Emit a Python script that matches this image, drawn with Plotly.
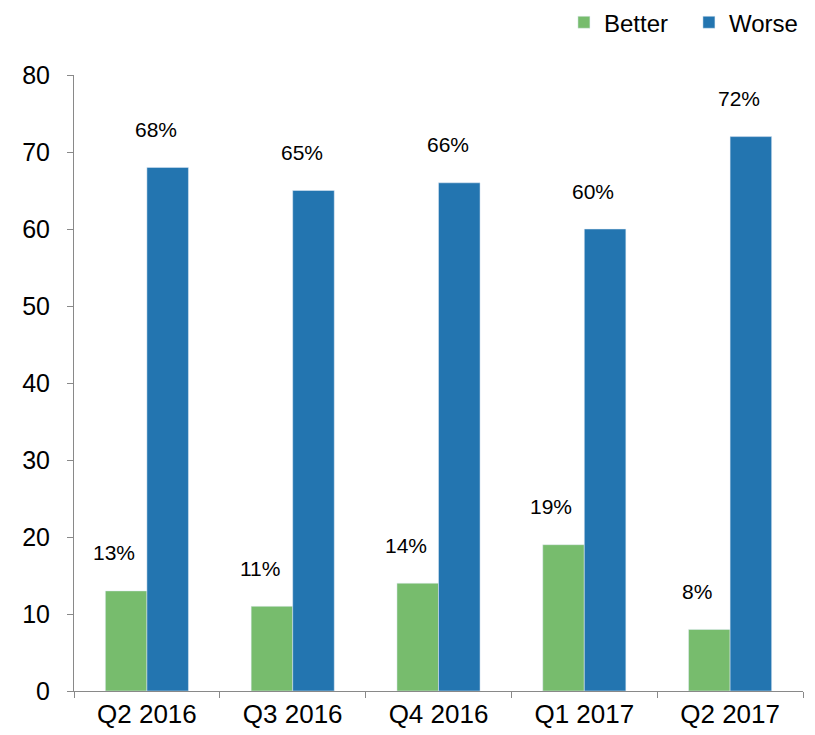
import plotly.graph_objects as go

categories = ["Q2 2016", "Q3 2016", "Q4 2016", "Q1 2017", "Q2 2017"]
better = [13, 11, 14, 19, 8]
worse = [68, 65, 66, 60, 72]
y_ticks = [0, 10, 20, 30, 40, 50, 60, 70, 80]

GREEN = "#77BC6D"
BLUE = "#2375B0"
FONT = "Arial, Liberation Sans, sans-serif"

fig = go.Figure()
fig.add_trace(go.Bar(name="Better", x=categories, y=better, marker_color=GREEN,
                     offsetgroup="b"))
fig.add_trace(go.Bar(name="Worse", x=categories, y=worse, marker_color=BLUE,
                     offsetgroup="w"))

annotations = []
for i, c in enumerate(categories):
    for val, off in ((better[i], -0.5), (worse[i], 0.5)):
        annotations.append(dict(
            x=c, y=val, xref="x", yref="y", text=f"{val}%", showarrow=False,
            xanchor="center", yanchor="middle",
            xshift=off * 42 - 12, yshift=38,
            font=dict(family=FONT, size=21, color="black")))

# page body has an 8px default margin, so the figure is sized to fit the window
fig.update_layout(
    width=807, height=727,
    margin=dict(l=66, r=12, t=67, b=44, autoexpand=False),
    paper_bgcolor="white", plot_bgcolor="white",
    barmode="group", bargap=0.43, bargroupgap=0,
    font=dict(family=FONT, color="black"),
    showlegend=True,
    legend=dict(orientation="h", x=1.015, xanchor="right", y=1.085, yanchor="middle",
                font=dict(family=FONT, size=24, color="black"),
                itemwidth=30, entrywidth=80, entrywidthmode="pixels",
                traceorder="normal", bgcolor="rgba(0,0,0,0)"),
    annotations=annotations,
)
fig.update_xaxes(
    showline=True, linecolor="#898989", linewidth=1,
    ticks="outside", tickson="boundaries", ticklen=6, tickcolor="#898989",
    tickfont=dict(family=FONT, size=26, color="black"),
    showgrid=False, range=[-0.5, 4.5],
)
fig.update_yaxes(
    range=[0, 80], tickvals=y_ticks,
    showline=True, linecolor="#898989", linewidth=1,
    ticks="outside", ticklen=6, tickcolor="#898989",
    tickfont=dict(family=FONT, size=25, color="black"),
    showgrid=False, zeroline=False, ticklabelstandoff=12,
)

fig.write_html("out.html")
